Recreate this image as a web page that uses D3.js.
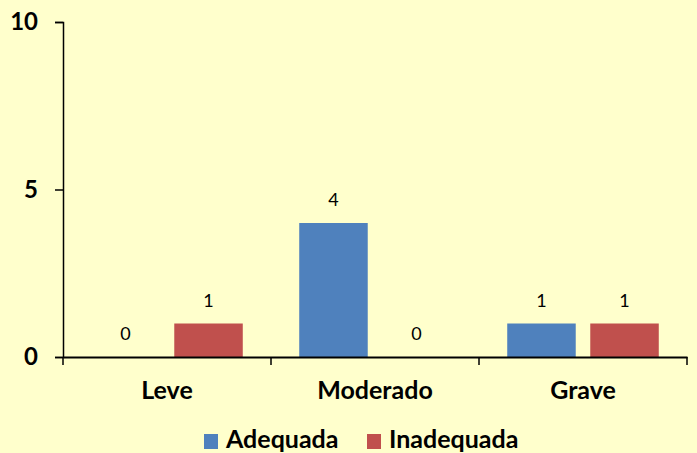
<!DOCTYPE html>
<html>
<head>
<meta charset="utf-8">
<script src="https://cdn.jsdelivr.net/npm/d3@7"></script>
<style>
  body { margin: 0; background: #FFFFCC; }
  svg { display: block; font-family: Lato, "Open Sans", sans-serif; }
</style>
</head>
<body>
<svg id="chart"></svg>
<script>
// categorias e series
var categories = ["Leve", "Moderado", "Grave"];
var series = ["Adequada", "Inadequada"];
var adequada = [0, 4, 1];
var inadequada = [1, 0, 1];
var yTicks = [0, 5, 10];

var colors = { "Adequada": "#4F81BD", "Inadequada": "#C0504D" };

var width = 697,
  height = 453,
  margin = { top: 22, right: 10, bottom: 96, left: 63 };

var svg = d3.select("#chart")
  .attr("width", width)
  .attr("height", height);

svg.append("rect")
  .attr("width", width).attr("height", height)
  .attr("fill", "#FFFFCC");

var g = svg.append("g")
  .attr("transform", "translate(" + margin.left + "," + margin.top + ")");

var innerW = 624,
  innerH = 335;

var x0 = d3.scaleBand().domain(categories).range([0, innerW]).padding(0);
var x1 = d3.scaleBand().domain(series).range([0, x0.bandwidth()])
  .paddingInner(0.175).paddingOuter(0.34);
var y = d3.scaleLinear().domain([0, 10]).range([innerH, 0]);

var rows = categories.map(function(c, i){
  return { cat: c, values: [
    { key: "Adequada", value: adequada[i] },
    { key: "Inadequada", value: inadequada[i] }
  ]};
});

var groups = g.selectAll(".grp")
  .data(rows).enter()
  .append("g")
  .attr("class", "grp")
  .attr("transform", function(d){ return "translate(" + x0(d.cat) + ",0)"; });

groups.selectAll("rect")
  .data(function(d){ return d.values; }).enter()
  .append("rect")
  .attr("x", function(d){ return x1(d.key); })
  .attr("y", function(d){ return y(d.value); })
  .attr("width", x1.bandwidth())
  .attr("height", function(d){ return innerH - y(d.value); })
  .attr("fill", function(d){ return colors[d.key]; });

groups.selectAll(".lbl")
  .data(function(d){ return d.values; }).enter()
  .append("text")
  .attr("class", "lbl")
  .attr("x", function(d){ return x1(d.key) + x1.bandwidth()/2; })
  .attr("y", function(d){ return y(d.value) - 17; })
  .attr("text-anchor", "middle")
  .attr("font-size", "18px")
  .attr("fill", "#000")
  .text(function(d){ return d.value; });

// eixo y
var yAxis = g.append("g")
  .call(d3.axisLeft(y).tickValues(yTicks).tickSize(8).tickPadding(17).tickFormat(d3.format("d")));
yAxis.selectAll("path, line").attr("stroke", "#000").attr("stroke-width", 1.5);
yAxis.selectAll("text")
  .attr("font-size", "24px").attr("font-weight", "bold")
  .attr("font-family", "Lato, sans-serif").attr("fill", "#000");

// eixo x
var xAxis = g.append("g")
  .attr("transform", "translate(0," + innerH + ")")
  .call(d3.axisBottom(x0).tickSize(0).tickPadding(24));
xAxis.select(".domain").attr("stroke", "#000").attr("stroke-width", 2);
xAxis.selectAll("text")
  .attr("font-size", "25px").attr("font-weight", "bold")
  .attr("font-family", "Lato, sans-serif").attr("fill", "#000");

// marcas entre categorias
g.append("g").selectAll("line")
  .data(d3.range(categories.length + 1)).enter()
  .append("line")
  .attr("x1", function(i){ return i * x0.step(); })
  .attr("x2", function(i){ return i * x0.step(); })
  .attr("y1", innerH).attr("y2", innerH + 8)
  .attr("stroke", "#000").attr("stroke-width", 1.5);

// legenda
var legendPos = [204, 367];
var legend = svg.append("g").selectAll("g")
  .data(series).enter()
  .append("g")
  .attr("transform", function(d, i){ return "translate(" + legendPos[i] + ",434)"; });

legend.append("rect")
  .attr("width", 14).attr("height", 15)
  .attr("fill", function(d){ return colors[d]; });

legend.append("text")
  .attr("x", 22).attr("y", 14)
  .attr("font-size", "25px").attr("font-weight", "bold")
  .attr("fill", "#000")
  .text(function(d){ return d; });
</script>
</body>
</html>
